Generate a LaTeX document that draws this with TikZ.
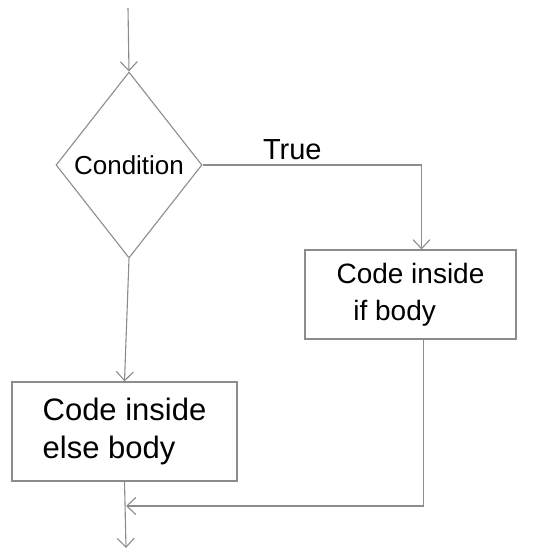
\documentclass[tikz,border=0pt]{standalone}
\usepackage{fontspec}
\setmainfont{Liberation Sans}
\usetikzlibrary{shapes.geometric,arrows.meta}
\tikzset{
  flowline/.style={draw=black!45, line width=1.1pt},
  flowarrow/.style={flowline, -{Straight Barb[length=9pt,width=17pt,line width=1.1pt]}},
  codebox/.style={draw=black!45, line width=1.1pt, rectangle, inner sep=0pt, align=left},
  decision/.style={draw=black!45, line width=1.1pt, diamond, inner sep=0pt}
}
\begin{document}
\begin{tikzpicture}[x=1pt,y=-1pt]
  \useasboundingbox (0,0) rectangle (533,554);
  % entry point and decision
  \coordinate (start) at (128,8);
  \node[decision, minimum width=146pt, minimum height=186pt,
        font=\fontsize{26}{30}\selectfont] (cond) at (129,165) {Condition};
  % the two branches
  \node[codebox, minimum width=211pt, minimum height=89pt,
        font=\fontsize{28}{37}\selectfont] (ifb) at (410.5,294.5)
    {Code inside\\\hspace*{0.6em}if body};
  \node[codebox, minimum width=225pt, minimum height=99pt,
        font=\fontsize{31}{38}\selectfont] (elseb) at (124.5,431.5)
    {Code inside\\else body};
  % merge point and exit
  \coordinate (merge) at (126,506);
  \coordinate (exit) at (126,548);
  % connectors
  \draw[flowarrow] (start) -- (cond.north);
  \draw[flowarrow] (cond.east) -| ([xshift=11pt]ifb.north)
    node[pos=0.205, above=1pt, font=\fontsize{29}{32}\selectfont] {True};
  \draw[flowarrow] (cond.south) -- (elseb.north);
  \draw[flowarrow] ([xshift=13pt]ifb.south) |- (merge);
  \draw[flowarrow] (elseb.south) -- (exit);
\end{tikzpicture}
\end{document}
